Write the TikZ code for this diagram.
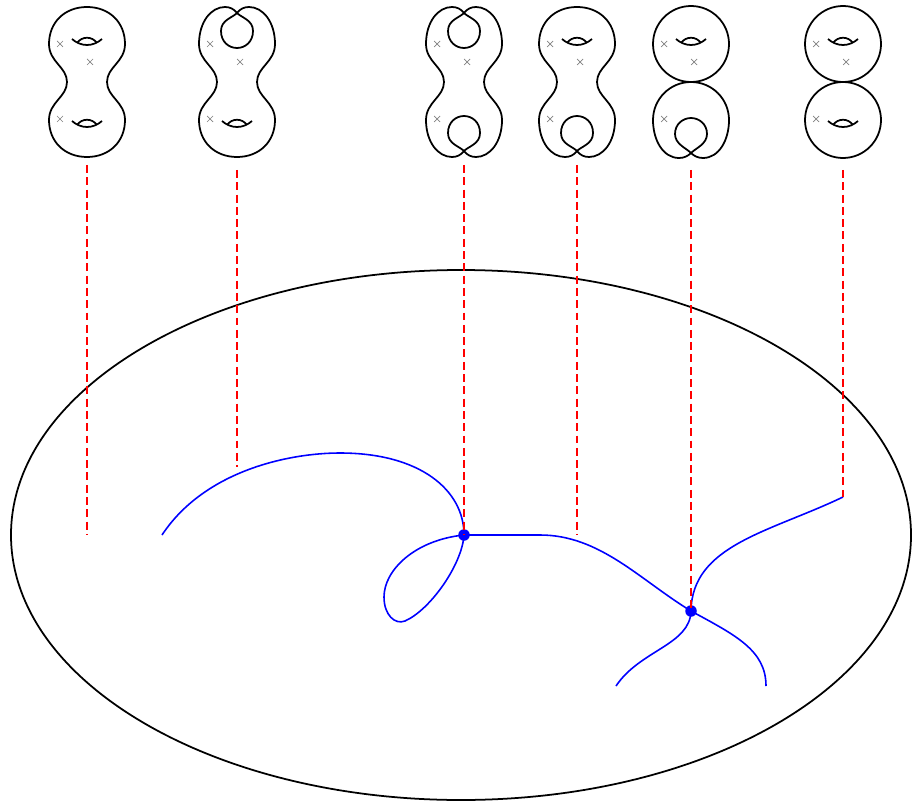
\documentclass[tikz,border=0pt]{standalone}
\usepackage{tikz}

\tikzset{
  surf/.style={line width=1pt, black},
  lobe/.pic={\draw[surf] (-20,0) .. controls (-20,-15) and (-38,-20) .. (-38,-38)
      .. controls (-38,-60) and (-22,-75) .. (0,-75) .. controls (22,-75) and (38,-60) .. (38,-38)
      .. controls (38,-20) and (20,-15) .. (20,0);},
  nodelobe/.pic={\draw[surf] (-20,0) .. controls (-20,-15) and (-38,-20) .. (-38,-38)
      .. controls (-38,-60) and (-26,-75) .. (-12,-75) .. controls (-7,-75) and (-3,-73) .. (0,-69)
      .. controls (5,-64) and (16,-62) .. (16,-51) .. controls (16,-40) and (8,-34) .. (0,-34)
      .. controls (-8,-34) and (-16,-40) .. (-16,-51) .. controls (-16,-62) and (-5,-64) .. (0,-69)
      .. controls (3,-73) and (7,-75) .. (12,-75) .. controls (26,-75) and (38,-60) .. (38,-38)
      .. controls (38,-20) and (20,-15) .. (20,0);},
  ball/.pic={\draw[surf] (0,-38) circle[radius=38];},
  nodeball/.pic={\draw[surf] (0,-71) .. controls (3,-74) and (7,-76) .. (12,-76)
      .. controls (28,-76) and (38,-58) .. (38,-38) .. controls (38,-17) and (21,0) .. (0,0)
      .. controls (-21,0) and (-38,-17) .. (-38,-38) .. controls (-38,-58) and (-28,-76) .. (-12,-76)
      .. controls (-7,-76) and (-3,-74) .. (0,-71)
      .. controls (5,-66) and (16,-62) .. (16,-52) .. controls (16,-42) and (8,-36) .. (0,-36)
      .. controls (-8,-36) and (-16,-42) .. (-16,-52) .. controls (-16,-62) and (-5,-66) .. (0,-71);},
  eye/.pic={\draw[surf] (-15,-2) .. controls (-6,6) and (6,6) .. (15,-2);
      \draw[surf] (-10,2) .. controls (-5,-5) and (5,-5) .. (10,2);},
  marks/.pic={\draw[gray, thin] (-30,-41) -- (-24,-35) (-30,-35) -- (-24,-41)
      (0,-23) -- (6,-17) (0,-17) -- (6,-23)
      (-30,34) -- (-24,40) (-30,40) -- (-24,34);}
}

\begin{document}
\begin{tikzpicture}[x=0.02cm, y=-0.02cm,
    fib/.style={red, line width=1pt, dash pattern=on 4.5pt off 2.5pt},
    curve/.style={blue, line width=0.9pt},
    sing/.style={circle, fill=blue, inner sep=0pt, minimum size=0.23cm}]
  \useasboundingbox (0,0) rectangle (912,804);

  % fibres
  \pic at (87,82) {lobe}; \pic[yscale=-1] at (87,82) {lobe};
  \pic at (87,41) {eye}; \pic at (87,123) {eye}; \pic at (87,82) {marks};

  \pic at (237,82) {nodelobe}; \pic[yscale=-1] at (237,82) {lobe};
  \pic at (237,123) {eye}; \pic at (237,82) {marks};

  \pic at (464,82) {nodelobe}; \pic[yscale=-1] at (464,82) {nodelobe};
  \pic at (464,82) {marks};

  \pic at (577,82) {lobe}; \pic[yscale=-1] at (577,82) {nodelobe};
  \pic at (577,41) {eye}; \pic at (577,82) {marks};

  \pic at (691,82) {ball}; \pic[yscale=-1] at (691,82) {nodeball};
  \pic at (691,41) {eye}; \pic at (691,82) {marks};

  \pic at (843,82) {ball}; \pic[yscale=-1] at (843,82) {ball};
  \pic at (843,41) {eye}; \pic at (843,123) {eye}; \pic at (843,82) {marks};

  % base
  \draw[surf] (461,535) ellipse[x radius=450, y radius=265];

  \node[sing] (p1) at (464,535) {};
  \node[sing] (p2) at (691,611) {};
  \coordinate (a) at (162,535);
  \coordinate (b) at (843,497);
  \coordinate (c) at (766,686);
  \coordinate (d) at (616,686);

  \draw[curve] (a) .. controls (205,470) and (290,453) .. (340,453)
      .. controls (420,453) and (464,490) .. (p1.center);
  \draw[curve] (p1.center) .. controls (415,540) and (384,570) .. (384,597)
      .. controls (384,615) and (395,625) .. (405,621) .. controls (430,610) and (462,565) .. (p1.center);
  \draw[curve] (p1.center) -- (540,535) .. controls (600,535) and (640,580) .. (p2.center);
  \draw[curve] (p2.center) .. controls (735,635) and (766,650) .. (c);
  \draw[curve] (b) .. controls (770,532) and (692,545) .. (p2.center);
  \draw[curve] (p2.center) .. controls (690,645) and (640,650) .. (d);

  % projections
  \coordinate (t1) at (87,165);  \coordinate (e1) at (87,535);
  \coordinate (t2) at (237,170); \coordinate (e2) at (237,467);
  \coordinate (t3) at (464,165);
  \coordinate (t4) at (577,165); \coordinate (e4) at (577,535);
  \coordinate (t5) at (691,170);
  \coordinate (t6) at (843,170);
  \draw[fib] (t1) -- (e1);
  \draw[fib] (t2) -- (e2);
  \draw[fib] (t3) -- (p1.center);
  \draw[fib] (t4) -- (e4);
  \draw[fib] (t5) -- (p2.center);
  \draw[fib] (t6) -- (b);
\end{tikzpicture}
\end{document}
